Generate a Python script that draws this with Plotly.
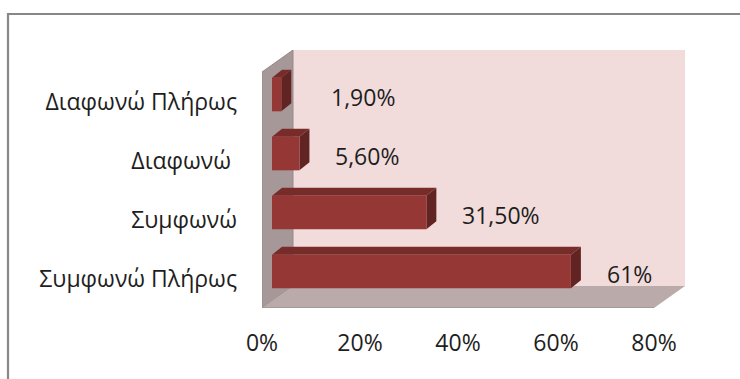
import plotly.graph_objects as go

# ---- data ----
categories = ["Συμφωνώ Πλήρως", "Συμφωνώ", "Διαφωνώ\u00a0", "Διαφωνώ Πλήρως"]
values = [61, 31.5, 5.6, 1.9]
value_labels = ["61%", "31,50%", "5,60%", "1,90%"]
x_tickvals = [0, 20, 40, 60, 80]
x_ticktext = ["0%", "20%", "40%", "60%", "80%"]

# ---- geometry / style ----
W, H = 740, 379
PX_X = 4.9          # px per percent
PX_Y = 59           # px per category slot
FRONT = (-10, 7)    # px offset of the front plane from the bar plane (right, down)
BACK = (21, -15)    # px offset of the back plane
BAR_DEPTH = (10, -8)
BAR_W = 0.57
XMAX = 80
L, T = 262, 50

plot_w = XMAX * PX_X + BACK[0] - FRONT[0]
plot_h = len(categories) * PX_Y + FRONT[1] - BACK[1]
R = W - L - plot_w
B = H - T - plot_h


def ux(px):
    return px / PX_X


def uy(py):
    return -py / PX_Y


fx, fy = ux(FRONT[0]), uy(FRONT[1])
bx, by = ux(BACK[0]), uy(BACK[1])
dx, dy = ux(BAR_DEPTH[0]), uy(BAR_DEPTH[1])
y_lo, y_hi = -0.5, len(categories) - 0.5
x_range = [fx, XMAX + bx]
y_range = [y_lo + fy, y_hi + by]

FONT = "Open Sans"
FS = 23
TXT = "#1e1e1e"


def poly(pts, fill, line_color=None, line_width=0):
    d = "M " + " L ".join(f"{x},{y}" for x, y in pts) + " Z"
    return dict(type="path", path=d, xref="x", yref="y",
                fillcolor=fill, layer="below",
                line=dict(color=line_color or fill, width=line_width))


shapes = []
# back wall
shapes.append(poly([(bx, y_lo + by), (XMAX + bx, y_lo + by), (XMAX + bx, y_hi + by), (bx, y_hi + by)],
                   "#F2DCDB"))
# side wall
shapes.append(poly([(fx, y_lo + fy), (fx, y_hi + fy), (bx, y_hi + by), (bx, y_lo + by)],
                   "#A69898", "#978989", 1))
# floor
shapes.append(poly([(fx, y_lo + fy), (XMAX + fx, y_lo + fy), (XMAX + bx, y_lo + by), (bx, y_lo + by)],
                   "#BBAAAA"))
# floor front edge
shapes.append(dict(type="line", xref="x", yref="y", x0=fx, x1=XMAX + fx, y0=y_lo + fy, y1=y_lo + fy,
                   line=dict(color="#A09494", width=1.5), layer="below"))

# 3D faces of the bars
for i, v in enumerate(values):
    top = i + BAR_W / 2
    bot = i - BAR_W / 2
    shapes.append(poly([(0, top), (v, top), (v + dx, top + dy), (dx, top + dy)], "#772C2A"))
    shapes.append(poly([(v, bot), (v + dx, bot + dy), (v + dx, top + dy), (v, top)], "#622422"))


# outer frame (paper coords)
def px2paper_x(px):
    return (px - L) / plot_w


def py2paper_y(py):
    return (H - B - py) / plot_h


frame_path = (f"M {px2paper_x(8)},{py2paper_y(420)} L {px2paper_x(8)},{py2paper_y(14)} "
              f"L {px2paper_x(800)},{py2paper_y(14)}")
shapes.append(dict(type="path", path=frame_path, xref="paper", yref="paper",
                   line=dict(color="#878787", width=2.2)))

fig = go.Figure()
fig.add_trace(go.Bar(
    y=list(range(len(categories))), x=values, orientation="h", width=BAR_W,
    marker=dict(color="#953735", line=dict(width=0)), hoverinfo="skip",
))

annotations = []
for i, (v, t) in enumerate(zip(values, value_labels)):
    annotations.append(dict(x=v, y=i, xref="x", yref="y", text=t, showarrow=False,
                            xanchor="left", yanchor="middle", xshift=34 if v > 3 else 48, yshift=-2,
                            font=dict(family=FONT, size=FS, color=TXT)))

fig.update_layout(
    width=W, height=H,
    margin=dict(l=L, r=R, t=T, b=B, pad=0),
    paper_bgcolor="white", plot_bgcolor="white",
    showlegend=False,
    shapes=shapes,
    annotations=annotations,
    xaxis=dict(range=x_range, tickvals=x_tickvals, ticktext=x_ticktext,
               showgrid=False, zeroline=False, showline=False, ticks="",
               ticklabelshift=-10, ticklabelstandoff=19,
               tickfont=dict(family=FONT, size=FS, color=TXT), fixedrange=True),
    yaxis=dict(range=y_range, tickvals=list(range(len(categories))), ticktext=categories,
               showgrid=False, zeroline=False, showline=False, ticks="",
               ticklabelshift=7, ticklabelstandoff=24,
               tickfont=dict(family=FONT, size=FS, color=TXT), fixedrange=True),
)

fig.write_html("out.html")
